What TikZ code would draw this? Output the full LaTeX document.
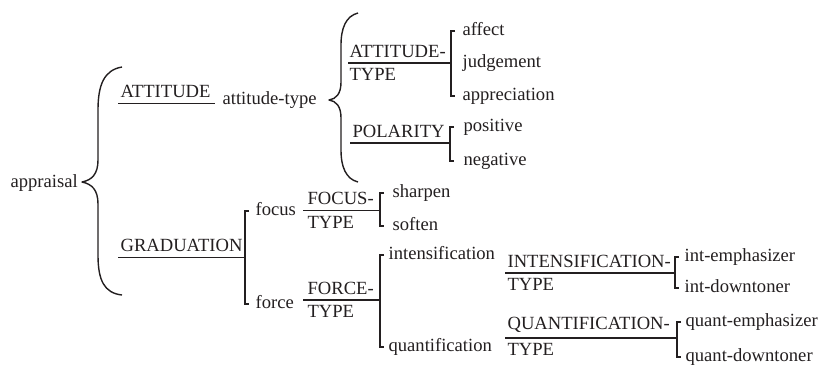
\documentclass[tikz,border=0pt]{standalone}
\usepackage{fontspec}
\setmainfont{Liberation Serif}
\usepackage{tikz}
\usetikzlibrary{calc}
\usepackage{xcolor}
\definecolor{ink}{RGB}{35, 31, 32}

\begin{document}
\begin{tikzpicture}[x=0.5pt, y=-0.5pt, line width=0.6pt, draw=ink, text=ink,
  every node/.style={font=\fontsize{9.3}{11}\selectfont},
  feat/.style={anchor=west, inner sep=0pt, text height=1ex, text depth=0pt},
  sysname/.style={anchor=south west, inner xsep=0pt, inner ysep=2.5pt},
  systype/.style={anchor=north west, inner xsep=0pt, inner ysep=2.5pt},
  curly/.style={line width=0.7pt, line join=round}]
  \useasboundingbox (0,0) rectangle (822,366);

  % root and its brace
  \node[feat] (appraisal) at (10,183) {appraisal};
  \draw[curly] (122,67) .. controls (104,70) and (98,85) .. (98,110) -- (98,160)
    .. controls (98,174) and (92,180) .. (82,182) .. controls (92,184) and (98,190) .. (98,204)
    -- (98,255) .. controls (98,280) and (104,293) .. (122,295);

  % ATTITUDE
  \coordinate (attL) at (118,103.5);
  \coordinate (attR) at (215,103.5);
  \node[sysname] (attitude) at (120,103.5) {ATTITUDE};
  \node[feat] (atttype) at (222,100) {attitude-type};
  \draw (attL) -- (attR);
  \draw[curly] (358,13) .. controls (346,16) and (341,28) .. (341,45) -- (341,82)
    .. controls (341,94) and (336,99) .. (329,100) .. controls (336,101) and (341,106) .. (341,118)
    -- (341,150) .. controls (341,167) and (346,179) .. (358,182);

  % ATTITUDE-TYPE
  \coordinate (atpL) at (348,63);
  \coordinate (atpbar) at (451,63);
  \node[sysname] (atpname) at (349,63) {ATTITUDE-};
  \node[systype] (atptype) at (349,63) {TYPE};
  \node[feat] (affect) at (462,31) {affect};
  \node[feat] (judgement) at (462,63) {judgement};
  \node[feat] (appreciation) at (462,96) {appreciation};
  \draw (atpL) -- (atpbar);
  \draw (atpbar |- affect.west) ++(4,0) -- (atpbar |- affect.west) -- (atpbar |- appreciation.west) -- ++(4,0);

  % POLARITY
  \coordinate (polL) at (350,143);
  \coordinate (polbar) at (450,143);
  \node[sysname] (polname) at (352,143) {POLARITY};
  \node[feat] (positive) at (463,127) {positive};
  \node[feat] (negative) at (463,161) {negative};
  \draw (polL) -- (polbar);
  \draw (polbar |- positive.west) ++(4,0) -- (polbar |- positive.west) -- (polbar |- negative.west) -- ++(4,0);

  % GRADUATION
  \coordinate (grL) at (118,257.5);
  \coordinate (grbar) at (245,257.5);
  \node[sysname] (graduation) at (120,257.5) {GRADUATION};
  \node[feat] (focus) at (255,211) {focus};
  \node[feat] (force) at (255,304) {force};
  \draw (grL) -- (grbar);
  \draw (grbar |- focus.west) ++(4,0) -- (grbar |- focus.west) -- (grbar |- force.west) -- ++(4,0);

  % FOCUS-TYPE
  \coordinate (fcL) at (303,210.5);
  \coordinate (fcbar) at (380,210.5);
  \node[sysname] (fcname) at (307,210.5) {FOCUS-};
  \node[systype] (fctype) at (307,210.5) {TYPE};
  \node[feat] (sharpen) at (392,193) {sharpen};
  \node[feat] (soften) at (392,226) {soften};
  \draw (fcL) -- (fcbar);
  \draw (fcbar |- sharpen.west) ++(4,0) -- (fcbar |- sharpen.west) -- (fcbar |- soften.west) -- ++(4,0);

  % FORCE-TYPE
  \coordinate (frL) at (303,300);
  \coordinate (frbar) at (380,300);
  \node[sysname] (frname) at (307,300) {FORCE-};
  \node[systype] (frtype) at (307,300) {TYPE};
  \node[feat] (intens) at (388,255) {intensification};
  \node[feat] (quant) at (388,347) {quantification};
  \draw (frL) -- (frbar);
  \draw (frbar |- intens.west) ++(4,0) -- (frbar |- intens.west) -- (frbar |- quant.west) -- ++(4,0);

  % INTENSIFICATION-TYPE
  \coordinate (inL) at (505,273);
  \coordinate (inbar) at (675,273);
  \node[sysname] (inname) at (507,273) {INTENSIFICATION-};
  \node[systype] (intype) at (507,273) {TYPE};
  \node[feat] (intemph) at (684,257) {int-emphasizer};
  \node[feat] (intdown) at (684,288) {int-downtoner};
  \draw (inL) -- (inbar);
  \draw (inbar |- intemph.west) ++(4,0) -- (inbar |- intemph.west) -- (inbar |- intdown.west) -- ++(4,0);

  % QUANTIFICATION-TYPE
  \coordinate (quL) at (505,338);
  \coordinate (qubar) at (677,338);
  \node[sysname] (quname) at (507,338) {QUANTIFICATION-};
  \node[systype] (qutype) at (507,338) {TYPE};
  \node[feat] (quemph) at (685,322) {quant-emphasizer};
  \node[feat] (qudown) at (685,357) {quant-downtoner};
  \draw (quL) -- (qubar);
  \draw (qubar |- quemph.west) ++(4,0) -- (qubar |- quemph.west) -- (qubar |- qudown.west) -- ++(4,0);
\end{tikzpicture}
\end{document}
